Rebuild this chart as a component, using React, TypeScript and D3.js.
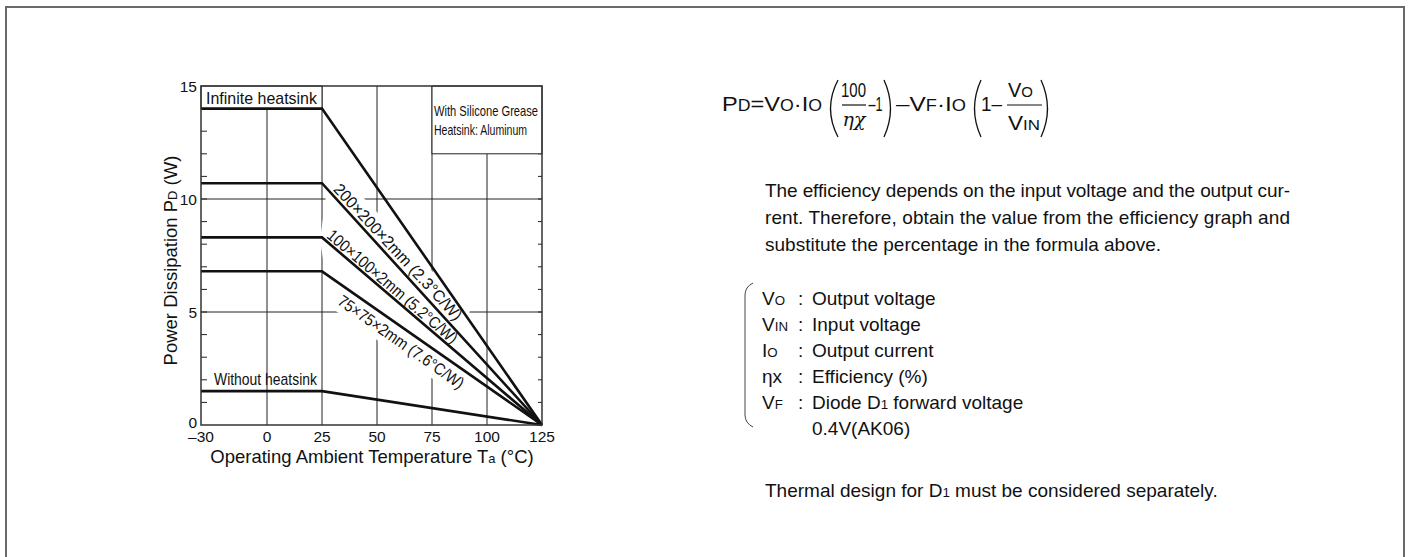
import React from 'react';
import * as d3 from 'd3';

// ---------- data ----------
const tempDomain: [number, number] = [-30, 125];
const powerDomain: [number, number] = [0, 15];
const xTickValues = [-30, 0, 25, 50, 75, 100, 125];
const yTickValues = [0, 5, 10, 15];
const yMinorTicks = [1, 2, 3, 4, 5, 6, 7, 8, 9, 10, 11, 12, 13, 14];
const vGridFull = [25, 50, 75];

const curveTemps = [-30, 25, 125];
const infiniteHeatsink = [14, 14, 0];
const heatsink200 = [10.7, 10.7, 0];
const heatsink100 = [8.3, 8.3, 0];
const heatsink75 = [6.8, 6.8, 0];
const withoutHeatsink = [1.5, 1.5, 0];
const seriesList = [infiniteHeatsink, heatsink200, heatsink100, heatsink75, withoutHeatsink];

const diagLabels = [
  { text: '200×200×2mm (2.3°C/W)', t: 59.5, p: 7.65, angle: 47, len: 180 },
  { text: '100×100×2mm (5.2°C/W)', t: 57.0, p: 6.12, angle: 40.5, len: 166 },
  { text: '75×75×2mm (7.6°C/W)', t: 60.9, p: 3.67, angle: 35, len: 150 },
];

const bodyLines = [
  'The efficiency depends on the input voltage and the output cur-',
  'rent. Therefore, obtain the value from the efficiency graph and',
  'substitute the percentage in the formula above.',
];

const FONT = "'Liberation Sans', Arial, Helvetica, sans-serif";

function Sub({ children, s = 0.7 }: { children: React.ReactNode; s?: number }) {
  return <tspan fontSize={`${s}em`}>{children}</tspan>;
}

export default function App() {
  const x = d3.scaleLinear().domain(tempDomain).range([201, 542]);
  const y = d3.scaleLinear().domain(powerDomain).range([425, 86]);
  const line = d3
    .line<number>()
    .x((_, i) => x(curveTemps[i]))
    .y((d) => y(d));

  const ink = '#111';
  const grid = '#222';

  // white mask behind the rotated labels (convex hull of padded label boxes)
  const corners: [number, number][] = [];
  diagLabels.forEach((l) => {
    const cx = x(l.t);
    const cy = y(l.p);
    const a = (l.angle * Math.PI) / 180;
    const dx = Math.cos(a), dy = Math.sin(a);
    const ux = Math.sin(a), uy = -Math.cos(a);
    const hl = l.len / 2 + 2;
    const hh = 12;
    [[-hl, -hh], [hl, -hh], [hl, hh], [-hl, hh]].forEach(([s, t]) => {
      corners.push([cx + s * dx - t * ux, cy + s * dy - t * uy]);
    });
  });
  const hull = d3.polygonHull(corners) || [];
  const hullPath = 'M' + hull.map((p) => p.join(',')).join('L') + 'Z';

  const paren = (x0: number, x1: number, left: boolean, y0 = 80, y1 = 137) => {
    const ym = (y0 + y1) / 2;
    return left
      ? `M${x1},${y0} Q${x0 - 4},${ym} ${x1},${y1}`
      : `M${x0},${y0} Q${x1 + 4},${ym} ${x0},${y1}`;
  };

  return (
    <svg
      width={1412}
      height={557}
      style={{ position: 'absolute', left: 0, top: 0, display: 'block' }}
      fontFamily={FONT}
    >
      <rect x={0} y={0} width={1412} height={557} fill="#fff" />
      <rect x={6} y={7} width={1398} height={570} fill="none" stroke="#6a6a6a" strokeWidth={2} />

      {/* ---------- chart ---------- */}
      <g>
        {vGridFull.map((t) => (
          <line key={t} x1={x(t)} x2={x(t)} y1={y(15)} y2={y(0)} stroke={grid} strokeWidth={1} />
        ))}
        <line x1={x(0)} x2={x(0)} y1={y(14)} y2={y(0)} stroke={grid} strokeWidth={1} />
        <line x1={x(100)} x2={x(100)} y1={y(12)} y2={y(0)} stroke={grid} strokeWidth={1} />
        {[5, 10].map((p) => (
          <line key={p} x1={x(-30)} x2={x(125)} y1={y(p)} y2={y(p)} stroke={grid} strokeWidth={1} />
        ))}
        {yMinorTicks.map((p) => (
          <g key={p}>
            <line x1={x(-30)} x2={x(-30) + 6} y1={y(p)} y2={y(p)} stroke={grid} strokeWidth={1} />
            <line x1={x(125)} x2={x(125) - 4} y1={y(p)} y2={y(p)} stroke={grid} strokeWidth={1} />
          </g>
        ))}

        <rect x={x(-30)} y={y(15)} width={x(25) - x(-30)} height={y(14) - y(15)} fill="#fff" stroke={grid} strokeWidth={1} />
        <rect x={x(75)} y={y(15)} width={x(125) - x(75)} height={y(12) - y(15)} fill="#fff" stroke={grid} strokeWidth={1} />

        <path d={hullPath} fill="#fff" />

        {seriesList.map((s, i) => (
          <path key={i} d={line(s) || ''} fill="none" stroke={ink} strokeWidth={2.6} strokeLinejoin="miter" />
        ))}

        <rect x={x(-30)} y={y(15)} width={x(125) - x(-30)} height={y(0) - y(15)} fill="none" stroke="#333" strokeWidth={1.5} />

        <text x={206} y={y(14) - 5} fontSize={17} fill={ink} textLength={111} lengthAdjust="spacingAndGlyphs">Infinite heatsink</text>
        <text x={214} y={y(withoutHeatsink[0]) - 6} fontSize={17} fill={ink} textLength={103} lengthAdjust="spacingAndGlyphs">Without heatsink</text>
        <text x={434} y={116} fontSize={14.5} fill={ink} textLength={104} lengthAdjust="spacingAndGlyphs">With Silicone Grease</text>
        <text x={434} y={135} fontSize={14.5} fill={ink} textLength={93} lengthAdjust="spacingAndGlyphs">Heatsink: Aluminum</text>

        {diagLabels.map((l) => (
          <g key={l.text} transform={`translate(${x(l.t)},${y(l.p)}) rotate(${l.angle})`}>
            <text x={-l.len / 2} y={5.5} fontSize={16.5} fill={ink} textLength={l.len} lengthAdjust="spacingAndGlyphs">
              {l.text}
            </text>
          </g>
        ))}

        {xTickValues.map((t) => (
          <text key={t} x={x(t)} y={442} textAnchor="middle" fontSize={15.5} fill={ink}>
            {t < 0 ? `–${Math.abs(t)}` : t}
          </text>
        ))}
        {yTickValues.map((p) => (
          <text key={p} x={197} y={p === 0 ? y(p) + 2.5 : y(p) + 6} textAnchor="end" fontSize={15.5} fill={ink}>
            {p}
          </text>
        ))}
        <text x={372} y={463} textAnchor="middle" fontSize={18.5} fill={ink}>
          Operating Ambient Temperature T<Sub>a</Sub> (°C)
        </text>
        <text transform={`translate(177,${(y(0) + y(15)) / 2 + 5}) rotate(-90)`} textAnchor="middle" fontSize={18.5} fill={ink}>
          Power Dissipation P<Sub>D</Sub> (W)
        </text>
      </g>

      {/* ---------- formula ---------- */}
      <g fontSize={21} fill={ink}>
        <text x={722} y={111} textLength={100} lengthAdjust="spacingAndGlyphs">
          P<Sub s={0.75}>D</Sub>=V<Sub s={0.75}>O</Sub>·I<Sub s={0.75}>O</Sub>
        </text>
        <path d={paren(827, 838, true)} fill="none" stroke={ink} strokeWidth={1.3} />
        <text x={841} y={97} fontSize={20} textLength={25} lengthAdjust="spacingAndGlyphs">100</text>
        <line x1={842} x2={866} y1={105} y2={105} stroke={ink} strokeWidth={1.2} />
        <text x={854} y={126} textAnchor="middle" fontFamily="'DejaVu Serif', serif" fontStyle="italic" fontSize={19}>ηχ</text>
        <text x={868.5} y={111} textLength={14} lengthAdjust="spacingAndGlyphs">–1</text>
        <path d={paren(884, 893, false)} fill="none" stroke={ink} strokeWidth={1.3} />
        <text x={896} y={111} textLength={70} lengthAdjust="spacingAndGlyphs">
          –V<Sub s={0.75}>F</Sub>·I<Sub s={0.75}>O</Sub>
        </text>
        <path d={paren(972, 981, true)} fill="none" stroke={ink} strokeWidth={1.3} />
        <text x={981} y={111} textLength={21} lengthAdjust="spacingAndGlyphs">1–</text>
        <text x={1008} y={97} fontSize={20} textLength={25} lengthAdjust="spacingAndGlyphs">
          V<Sub s={0.75}>O</Sub>
        </text>
        <line x1={1007} x2={1042} y1={105} y2={105} stroke={ink} strokeWidth={1.2} />
        <text x={1008} y={130} fontSize={20} textLength={32} lengthAdjust="spacingAndGlyphs">
          V<Sub s={0.75}>IN</Sub>
        </text>
        <path d={paren(1041, 1050, false)} fill="none" stroke={ink} strokeWidth={1.3} />
      </g>

      {/* ---------- body text ---------- */}
      <g fontSize={19} fill={ink}>
        <text x={765} y={197} textLength={525} lengthAdjust="spacing">{bodyLines[0]}</text>
        <text x={765} y={224} textLength={525} lengthAdjust="spacing">{bodyLines[1]}</text>
        <text x={765} y={251}>{bodyLines[2]}</text>

        <path d="M753,283 Q745,287 745,295 L745,415 Q745,423 753,427" fill="none" stroke="#444" strokeWidth={1} />
        <text x={762} y={305}>V<Sub>O</Sub></text>
        <text x={762} y={331}>V<Sub>IN</Sub></text>
        <text x={762} y={357}>I<Sub>O</Sub></text>
        <text x={762} y={383}>ηx</text>
        <text x={762} y={409}>V<Sub>F</Sub></text>
        {[305, 331, 357, 383, 409].map((b) => (
          <text key={b} x={798} y={b}>:</text>
        ))}
        <text x={812} y={305}>Output voltage</text>
        <text x={812} y={331}>Input voltage</text>
        <text x={812} y={357}>Output current</text>
        <text x={812} y={383}>Efficiency (%)</text>
        <text x={812} y={409}>Diode D<Sub>1</Sub> forward voltage</text>
        <text x={812} y={435}>0.4V(AK06)</text>

        <text x={765} y={497}>
          Thermal design for D<Sub>1</Sub> must be considered separately.
        </text>
      </g>
    </svg>
  );
}
